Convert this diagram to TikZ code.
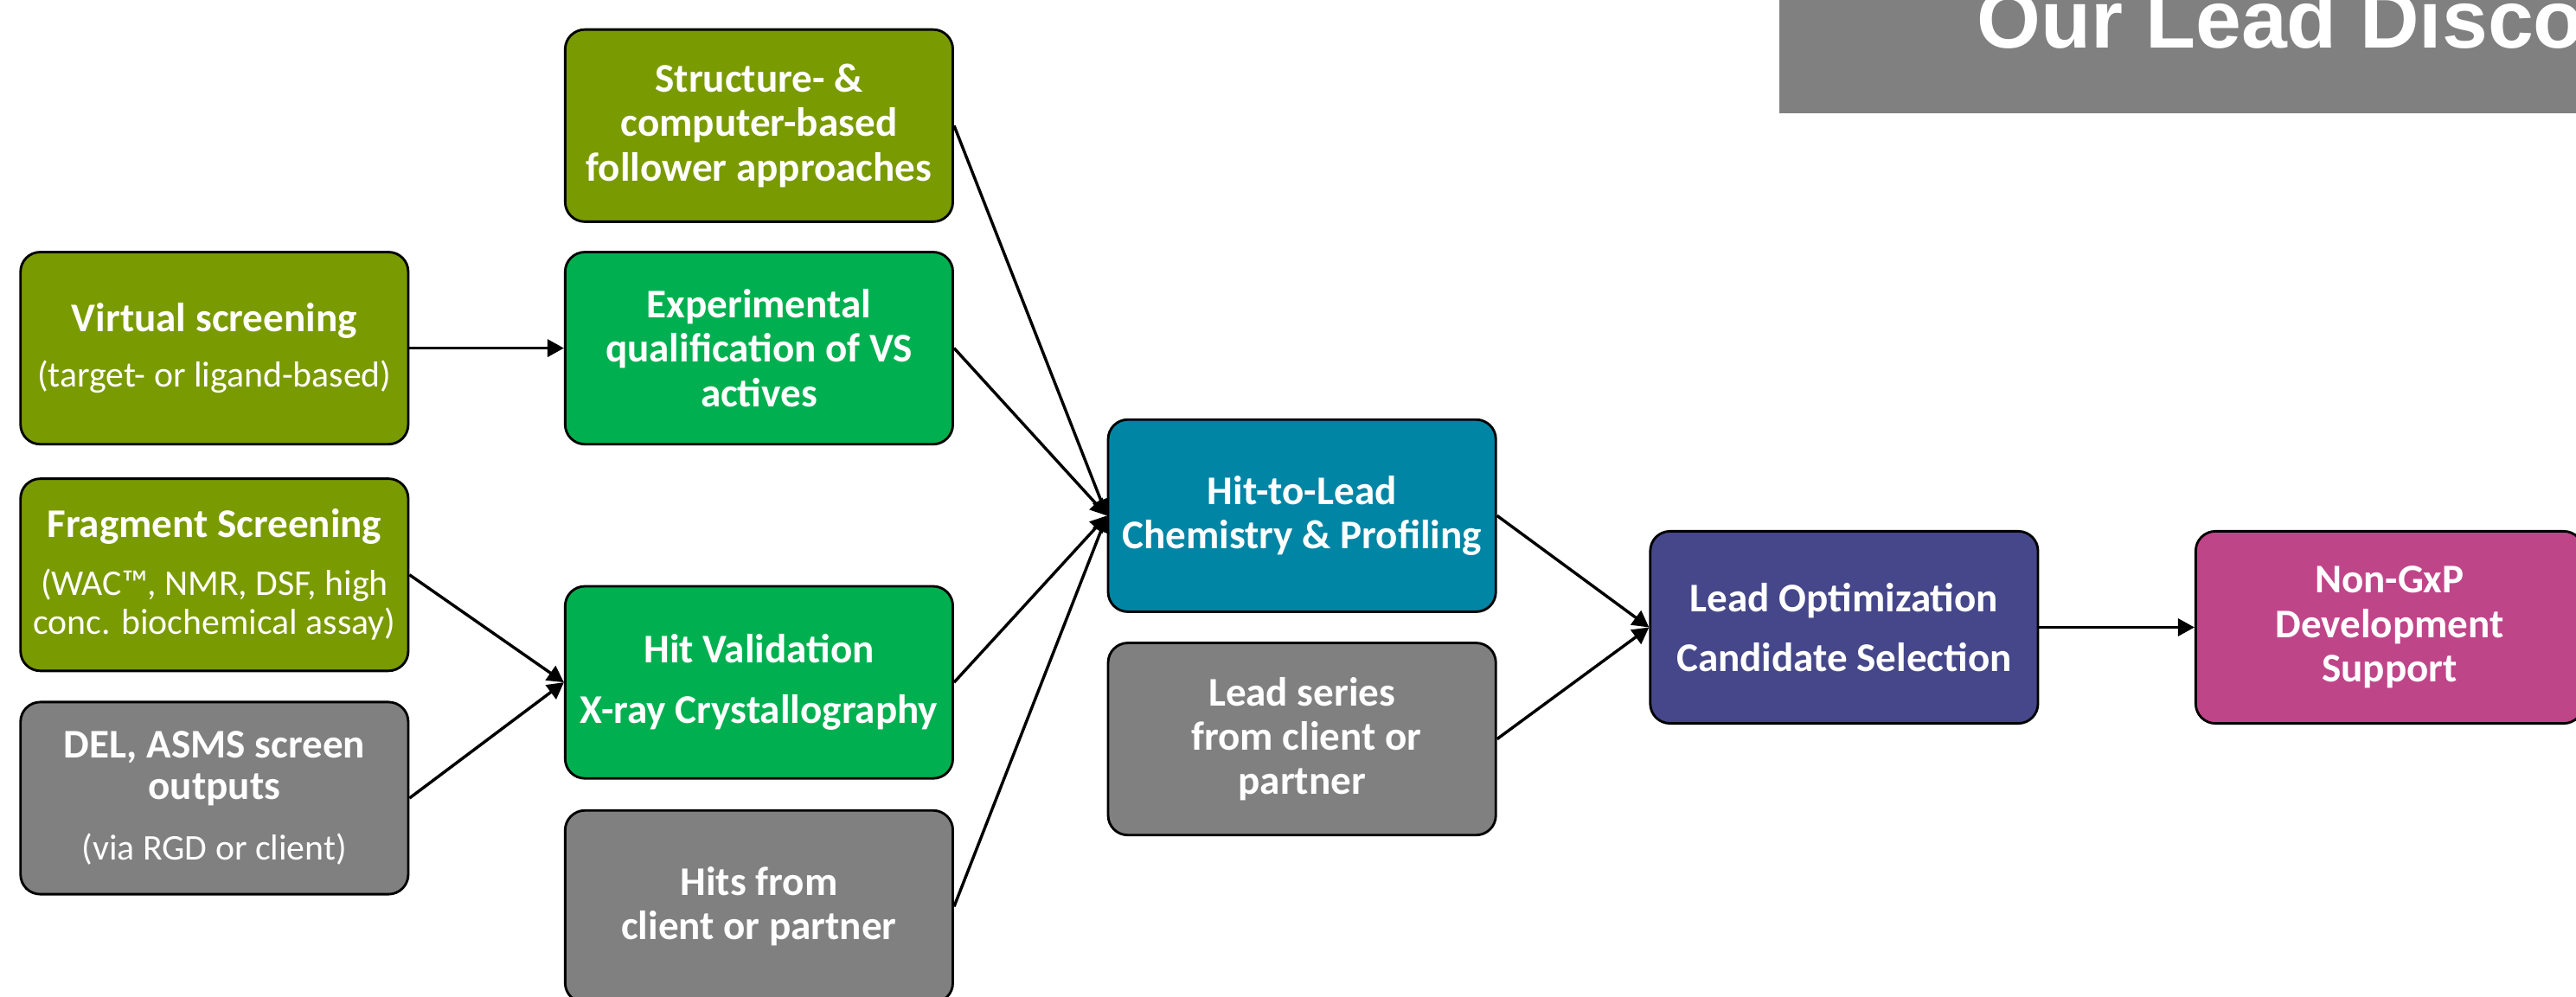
\documentclass[tikz,border=0pt]{standalone}
\usepackage{fontspec}
\setmainfont{Carlito}
\newfontfamily\bannerfont{Liberation Sans}
\usepackage{tikz}
\usetikzlibrary{arrows.meta, shapes, positioning}
\usepackage{xcolor}
\definecolor{olivegreen}{RGB}{122,154,1}
\definecolor{brightgreen}{RGB}{0,176,80}
\definecolor{petrol}{RGB}{0,133,165}
\definecolor{indigo}{RGB}{69,71,138}
\definecolor{mulberry}{RGB}{191,69,137}
\definecolor{slategray}{RGB}{128,128,128}
\tikzset{stepbox/.style={rectangle, rounded corners=12pt, draw=black, line width=1.5pt, minimum width=236pt, minimum height=117pt, inner sep=0pt, align=center, text=white, font=\bfseries\fontsize{24.8}{27}\selectfont},
olivegreenbox/.style={stepbox, fill=olivegreen},
brightgreenbox/.style={stepbox, fill=brightgreen},
petrolbox/.style={stepbox, fill=petrol},
indigobox/.style={stepbox, fill=indigo},
mulberrybox/.style={stepbox, fill=mulberry},
slategraybox/.style={stepbox, fill=slategray}}
\newcommand{\detailline}[1]{{\mdseries\fontsize{22}{23.5}\selectfont #1}}

\begin{document}
\begin{tikzpicture}[
                line join=round,
                flowarrow/.style={-{Triangle[length=10pt, width=10.5pt]}, line width=1.8pt, black}
            ]
                \useasboundingbox (0pt, 0pt) rectangle (1568pt, 607pt);
                \clip (0pt, 0pt) rectangle (1568pt, 607pt);

                % Title banner
                \fill[slategray] (1083pt, 538pt) rectangle (1580pt, 620pt);
                \node[anchor=base west, inner sep=0pt, text=white, font=\bannerfont\bfseries\fontsize{50}{60}\selectfont] (title) at (1203pt, 578pt) {Our Lead Disco};

                % First column
                \node[olivegreenbox] (virtual) at (130.5pt, 395pt) {Virtual screening\\[7pt]\detailline{(target- or ligand-based)}};
                \node[olivegreenbox] (fragment) at (130.5pt, 257pt) {Fragment Screening\\[8pt]\detailline{(WAC™, NMR, DSF, high}\\[-3pt]\detailline{conc. biochemical assay)}};
                \node[slategraybox] (del) at (130.5pt, 121pt) {DEL, ASMS screen\\[-2pt]outputs\\[10pt]\detailline{(via RGD or client)}};

                % Second column
                \node[olivegreenbox] (structure) at (462pt, 530.5pt) {Structure- \&\\computer-based\\follower approaches};
                \node[brightgreenbox] (experimental) at (462pt, 395pt) {Experimental\\qualification of VS\\actives};
                \node[brightgreenbox] (hitval) at (462pt, 191.5pt) {Hit Validation\\[10pt]X-ray Crystallography};
                \node[slategraybox] (hits) at (462pt, 55pt) {Hits from\\client or partner};

                % Third column
                \node[petrolbox] (hittolead) at (792.5pt, 293pt) {Hit-to-Lead\\Chemistry \& Profiling};
                \node[slategraybox] (leadseries) at (792.5pt, 157pt) {Lead series\\\ from client or\\partner};

                % Last steps
                \node[indigobox] (leadopt) at (1122.5pt, 225pt) {Lead Optimization\\[9pt]Candidate Selection};
                \node[mulberrybox] (nongxp) at (1454.5pt, 225pt) {Non-GxP\\Development\\Support};

                % Arrows
                \draw[flowarrow] (virtual.east) -- (experimental.west);
                \draw[flowarrow] (fragment.east) -- (hitval.west);
                \draw[flowarrow] (del.east) -- (hitval.west);

                \draw[flowarrow] (structure.east) -- (hittolead.west);
                \draw[flowarrow] (experimental.east) -- (hittolead.west);
                \draw[flowarrow] (hitval.east) -- (hittolead.west);
                \draw[flowarrow] (hits.east) -- (hittolead.west);

                \draw[flowarrow] (hittolead.east) -- (leadopt.west);
                \draw[flowarrow] (leadseries.east) -- (leadopt.west);
                \draw[flowarrow] (leadopt.east) -- (nongxp.west);
            \end{tikzpicture}
\end{document}
